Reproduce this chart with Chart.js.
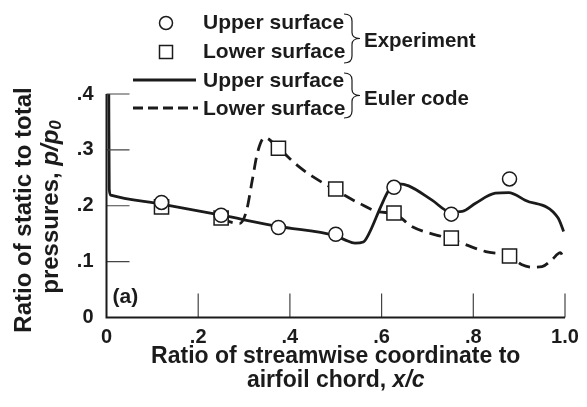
<!DOCTYPE html>
<html>
<head>
<meta charset="utf-8">
<script src="https://cdn.jsdelivr.net/npm/chart.js@4.4.1/dist/chart.umd.min.js"></script>
<style>
  body { margin: 0; background: #fff; }
  #wrap { width: 587px; height: 407px; }
</style>
</head>
<body>
<div id="wrap"><canvas id="chart" width="587" height="407"></canvas></div>
<script>
// --- DATA ---
const xTicks = [0, 0.2, 0.4, 0.6, 0.8, 1.0];
const xTickLabels = ['0', '.2', '.4', '.6', '.8', '1.0'];
const yTicks = [0, 0.1, 0.2, 0.3, 0.4];
const yTickLabels = ['0', '.1', '.2', '.3', '.4'];

// experiment (symbols)
const xUpperExp = [0.12, 0.25, 0.375, 0.5, 0.627, 0.752, 0.879];
const yUpperExp = [0.206, 0.183, 0.161, 0.149, 0.233, 0.185, 0.248];
const xLowerExp = [0.12, 0.25, 0.375, 0.5, 0.627, 0.752, 0.879];
const yLowerExp = [0.198, 0.178, 0.303, 0.23, 0.187, 0.142, 0.11];

// Euler code (curves)
const xUpperEuler = [0.005, 0.006, 0.009, 0.12, 0.25, 0.375, 0.5, 0.52, 0.542, 0.56, 0.573, 0.598, 0.616, 0.638, 0.659, 0.71, 0.75, 0.776, 0.805, 0.848, 0.877, 0.913, 0.985, 0.997];
const yUpperEuler = [0.40, 0.23, 0.219, 0.203, 0.183, 0.163, 0.146, 0.139, 0.133, 0.135, 0.151, 0.198, 0.228, 0.239, 0.2355, 0.21, 0.189, 0.19, 0.2045, 0.2224, 0.2235, 0.21, 0.178, 0.154];
const xLowerEuler = [0.25, 0.27, 0.29, 0.305, 0.318, 0.329, 0.345, 0.375, 0.421, 0.45, 0.5, 0.551, 0.594, 0.627, 0.667, 0.752, 0.827, 0.879, 0.905, 0.93, 0.95, 0.971, 0.99, 0.997];
const yLowerEuler = [0.176, 0.171, 0.168, 0.19, 0.246, 0.294, 0.322, 0.303, 0.269, 0.252, 0.228, 0.2045, 0.189, 0.186, 0.1625, 0.14, 0.118, 0.11, 0.095, 0.09, 0.091, 0.103, 0.116, 0.106];

const legendExp = ['Upper surface', 'Lower surface'];
const legendEuler = ['Upper surface', 'Lower surface'];

const INK = '#1b1b1b';
const FONT = '"Liberation Sans", Arial, sans-serif';

function pts(xs, ys) {
    return xs.map((x, i) => ({ x: x, y: ys[i] }));
}

// --- CUSTOM DRAWING (axes, inward ticks, titles, legend) ---
function drawParts(ctx, parts, cx, cy) {
    let total = 0;
    parts.forEach(p => { ctx.font = p.font; total += ctx.measureText(p.text).width; });
    let x = cx - total / 2;
    ctx.textAlign = 'left';
    ctx.textBaseline = 'middle';
    parts.forEach(p => {
        ctx.font = p.font;
        ctx.fillText(p.text, x, cy + (p.dy || 0));
        x += ctx.measureText(p.text).width;
    });
}

function drawBrace(ctx, x0, x1, yTop, yBot) {
    const xm = (x0 + x1) / 2;
    const ym = (yTop + yBot) / 2;
    ctx.beginPath();
    ctx.moveTo(x0, yTop);
    ctx.quadraticCurveTo(xm, yTop, xm, yTop + 7);
    ctx.lineTo(xm, ym - 6);
    ctx.quadraticCurveTo(xm, ym, x1, ym);
    ctx.quadraticCurveTo(xm, ym, xm, ym + 6);
    ctx.lineTo(xm, yBot - 7);
    ctx.quadraticCurveTo(xm, yBot, x0, yBot);
    ctx.stroke();
}

const decorPlugin = {
    id: 'decor',
    afterDatasetsDraw(chart) {
        const ctx = chart.ctx;
        const xs = chart.scales.x;
        const ys = chart.scales.y;
        const x0 = xs.getPixelForValue(0);
        const y0 = ys.getPixelForValue(0);
        const xEnd = xs.getPixelForValue(1.0);
        const yTop = ys.getPixelForValue(0.4);

        ctx.save();
        ctx.lineCap = 'butt';

        // inward ticks
        ctx.strokeStyle = '#444';
        ctx.lineWidth = 1.2;
        ctx.beginPath();
        yTicks.forEach(v => {
            if (v === 0) return;
            const y = ys.getPixelForValue(v);
            ctx.moveTo(x0, y);
            ctx.lineTo(x0 + 23, y);
        });
        xTicks.forEach(v => {
            if (v === 0) return;
            const x = xs.getPixelForValue(v);
            ctx.moveTo(x, y0);
            ctx.lineTo(x, y0 - 24);
        });
        ctx.stroke();

        // axis lines
        ctx.strokeStyle = INK;
        ctx.lineWidth = 2;
        ctx.beginPath();
        ctx.moveTo(x0, yTop);
        ctx.lineTo(x0, y0);
        ctx.lineTo(xEnd, y0);
        ctx.stroke();

        ctx.fillStyle = INK;

        // panel label
        ctx.font = 'bold 21px ' + FONT;
        ctx.textAlign = 'left';
        ctx.textBaseline = 'middle';
        ctx.fillText('(a)', x0 + 6, 297);

        // x axis title
        const xc = (x0 + xEnd) / 2;
        drawParts(ctx, [{ text: 'Ratio of streamwise coordinate to', font: 'bold 23px ' + FONT }], xc, 357);
        drawParts(ctx, [
            { text: 'airfoil chord, ', font: 'bold 23px ' + FONT },
            { text: 'x/c', font: 'italic bold 23px ' + FONT }
        ], xc, 381);

        // y axis title
        ctx.save();
        ctx.translate(24, 210);
        ctx.rotate(-Math.PI / 2);
        drawParts(ctx, [{ text: 'Ratio of static to total', font: 'bold 24px ' + FONT }], 0, 0);
        ctx.restore();
        ctx.save();
        ctx.translate(51, 207);
        ctx.rotate(-Math.PI / 2);
        drawParts(ctx, [
            { text: 'pressures, ', font: 'bold 24px ' + FONT },
            { text: 'p/p', font: 'italic bold 24px ' + FONT },
            { text: '0', font: 'italic bold 17px ' + FONT, dy: 5 }
        ], 0, 0);
        ctx.restore();

        // legend
        ctx.font = 'bold 21px ' + FONT;
        ctx.textAlign = 'left';
        ctx.textBaseline = 'middle';
        ctx.lineWidth = 1.5;
        ctx.beginPath();
        ctx.arc(166, 23, 6.5, 0, Math.PI * 2);
        ctx.stroke();
        ctx.strokeRect(159.5, 45.5, 13, 13);
        ctx.fillText(legendExp[0], 203, 23);
        ctx.fillText(legendExp[1], 203, 52);

        ctx.lineWidth = 2.8;
        ctx.beginPath();
        ctx.moveTo(133, 80);
        ctx.lineTo(196, 80);
        ctx.stroke();
        ctx.setLineDash([10, 5]);
        ctx.beginPath();
        ctx.moveTo(133, 108);
        ctx.lineTo(198, 108);
        ctx.stroke();
        ctx.setLineDash([]);
        ctx.fillText(legendEuler[0], 203, 81);
        ctx.fillText(legendEuler[1], 203, 109);

        ctx.lineWidth = 1.2;
        drawBrace(ctx, 344, 360, 14, 63);
        drawBrace(ctx, 344, 360, 73, 118);
        ctx.font = 'bold 20.5px ' + FONT;
        ctx.fillText('Experiment', 364, 41);
        ctx.fillText('Euler code', 364, 99);

        ctx.restore();
    }
};

// --- CHART ---
document.addEventListener('DOMContentLoaded', () => {
    const ctx = document.getElementById('chart').getContext('2d');
    new Chart(ctx, {
        type: 'scatter',
        data: {
            datasets: [
                {
                    label: 'Upper surface (experiment)',
                    data: pts(xUpperExp, yUpperExp),
                    pointStyle: 'circle',
                    pointRadius: 7,
                    backgroundColor: '#fff',
                    borderColor: INK,
                    borderWidth: 1.5,
                    showLine: false
                },
                {
                    label: 'Lower surface (experiment)',
                    data: pts(xLowerExp, yLowerExp),
                    pointStyle: 'rect',
                    pointRadius: 10,
                    backgroundColor: '#fff',
                    borderColor: INK,
                    borderWidth: 1.5,
                    showLine: false
                },
                {
                    label: 'Upper surface (Euler code)',
                    data: pts(xUpperEuler, yUpperEuler),
                    showLine: true,
                    pointRadius: 0,
                    borderColor: INK,
                    borderWidth: 2.8,
                    cubicInterpolationMode: 'monotone',
                    clip: 6
                },
                {
                    label: 'Lower surface (Euler code)',
                    data: pts(xLowerEuler, yLowerEuler),
                    showLine: true,
                    pointRadius: 0,
                    borderColor: INK,
                    borderWidth: 2.8,
                    borderDash: [12, 7],
                    cubicInterpolationMode: 'monotone',
                    clip: 6
                }
            ]
        },
        options: {
            responsive: false,
            animation: false,
            layout: { padding: { left: 0, right: 22, top: 94, bottom: 59.5 } },
            plugins: { legend: { display: false }, tooltip: { enabled: false } },
            scales: {
                x: {
                    type: 'linear',
                    min: 0,
                    max: 1.0,
                    grid: { display: false, drawTicks: false },
                    border: { display: false },
                    afterBuildTicks: scale => { scale.ticks = xTicks.map(v => ({ value: v })); },
                    afterFit: scale => { scale.height = 30; },
                    ticks: {
                        padding: 8,
                        maxRotation: 0,
                        color: INK,
                        font: { family: FONT, size: 20, weight: 'bold' },
                        callback: (v, i) => xTickLabels[i]
                    }
                },
                y: {
                    type: 'linear',
                    min: 0,
                    max: 0.4,
                    grid: { display: false, drawTicks: false },
                    border: { display: false },
                    afterBuildTicks: scale => { scale.ticks = yTicks.map(v => ({ value: v })); },
                    afterFit: scale => { scale.width = 106.5; },
                    ticks: {
                        padding: 13,
                        color: INK,
                        font: { family: FONT, size: 20, weight: 'bold' },
                        callback: (v, i) => yTickLabels[i]
                    }
                }
            }
        },
        plugins: [decorPlugin]
    });
});
</script>
</body>
</html>
